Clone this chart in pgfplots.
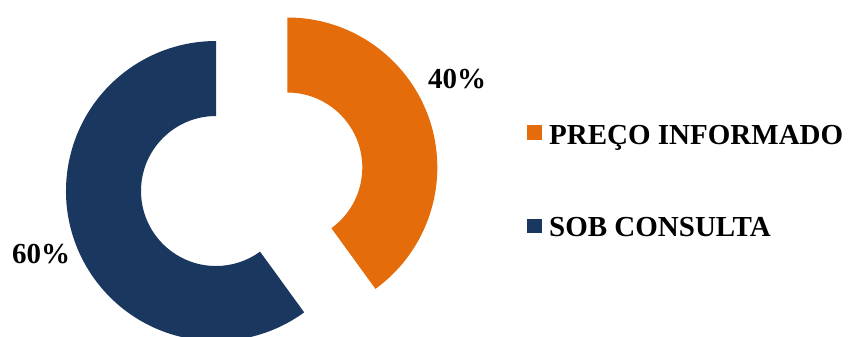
\documentclass[border=0pt]{standalone}
\usepackage{fontspec}
\setmainfont{Liberation Serif}
\usepackage{pgfplots}
\usepackage{pgfplotstable}
\pgfplotsset{compat=1.18}
\definecolor{cOrange}{HTML}{E46C0A}
\definecolor{cBlue}{HTML}{1A375F}
\pgfplotstableread{
label value
A 40
B 60
}\shares
\begin{document}
\begin{tikzpicture}
\pgfplotstablegetelem{0}{value}\of\shares \let\vA\pgfplotsretval
\pgfplotstablegetelem{1}{value}\of\shares \let\vB\pgfplotsretval
\pgfmathsetmacro{\aS}{90}
\pgfmathsetmacro{\aM}{90-3.6*\vA}
\pgfmathsetmacro{\aE}{\aM-3.6*\vB}
\begin{axis}[
  x=1bp, y=1bp, y dir=reverse,
  xmin=0, xmax=848, ymin=0, ymax=336,
  scale only axis, hide axis, clip=true,
]
% orange slice (exploded)
\fill[cOrange] ([shift={(\aS:150bp)}]axis cs:287.3,167.5) arc[start angle=\aS, end angle=\aM, radius=150bp]
  -- ([shift={(\aM:75bp)}]axis cs:287.3,167.5) arc[start angle=\aM, end angle=\aS, radius=75bp] -- cycle;
% blue slice
\fill[cBlue] ([shift={(\aM:150bp)}]axis cs:216,191) arc[start angle=\aM, end angle=\aE, radius=150bp]
  -- ([shift={(\aE:75bp)}]axis cs:216,191) arc[start angle=\aE, end angle=\aM, radius=75bp] -- cycle;
% data labels
\node[anchor=base, inner sep=0pt, font=\fontsize{29bp}{32bp}\selectfont\bfseries] at (axis cs:457,88) {\vA\%};
\node[anchor=base, inner sep=0pt, font=\fontsize{29bp}{32bp}\selectfont\bfseries] at (axis cs:41,263) {\vB\%};
% legend
\fill[cOrange] (axis cs:527,125.3) rectangle (axis cs:541.7,140);
\fill[cBlue] (axis cs:527,219) rectangle (axis cs:541.7,233.3);
\node[anchor=base west, inner sep=0pt, font=\fontsize{29bp}{32bp}\selectfont\bfseries] at (axis cs:549,144) {PREÇO INFORMADO};
\node[anchor=base west, inner sep=0pt, font=\fontsize{29bp}{32bp}\selectfont\bfseries] at (axis cs:549,236.5) {SOB CONSULTA};
\end{axis}
\pgfresetboundingbox
\path (current axis.south west) rectangle (current axis.north east);
\end{tikzpicture}
\end{document}
